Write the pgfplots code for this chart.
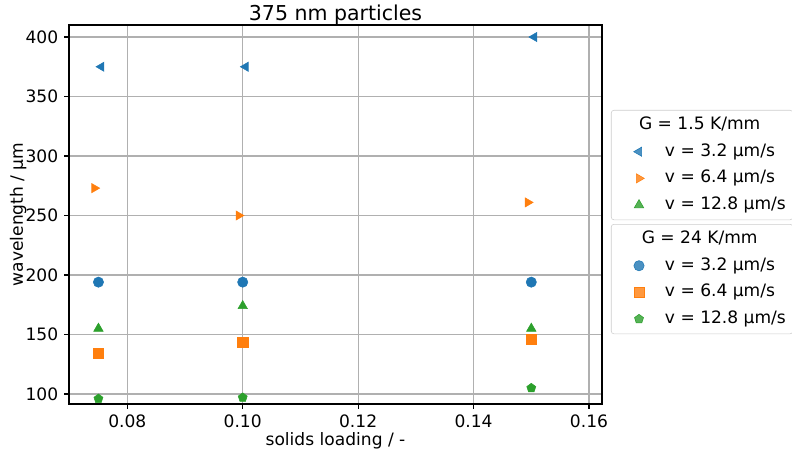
\documentclass[border=0pt]{standalone}
\usepackage{fontspec}
\setmainfont{DejaVu Sans}
\usepackage{pgfplots}
\pgfplotsset{compat=1.18}

\definecolor{tabblue}{HTML}{1F77B4}
\definecolor{taborange}{HTML}{FF7F0E}
\definecolor{tabgreen}{HTML}{2CA02C}

\newcommand{\basefont}{\fontsize{12.3}{14.8}\selectfont}

\pgfplotsset{
  common/.style={
    scale only axis, width=383.76pt, height=272.88pt,
    at={(0,0)}, anchor=south west,
    xmin=0.0699, xmax=0.16225, ymin=91.6, ymax=410.1,
    legend cell align=left,
    legend style={draw=black!20, rounded corners=2pt, fill=white, fill opacity=0.8, text opacity=1,
      font=\basefont,
      row sep=2.9pt, column sep=2.5pt, inner xsep=3pt, inner ysep=2.5pt,
      nodes={text height=9.3pt, text depth=3pt, inner sep=2pt}},
    % marker in a fixed-width cell (move-to only, so nothing is stroked)
    legend image code/.code={\path (0pt,0pt) (30.8pt,0pt);
      \draw[mark repeat=3,mark phase=2,##1] plot coordinates {(0pt,0pt)(16.8pt,0pt)(30.8pt,0pt)};},
  },
}
\newcommand{\legtitle}[1]{\hspace*{-36.9pt}\makebox[123.8pt][c]{#1}}

\begin{document}
\basefont
\begin{tikzpicture}
\begin{axis}[
  common,
  title={375 nm particles},
  every axis title/.style={at={(axis description cs:0.5,1)}, anchor=base, yshift=2.9pt,
    inner sep=0pt, font=\fontsize{14.76}{17.7}\selectfont},
  xlabel={solids loading / -}, ylabel={wavelength / µm},
  every axis x label/.style={at={(axis description cs:0.5,-0.0975)}, anchor=center, font=\basefont},
  every axis y label/.style={at={(axis description cs:-0.0956,0.5)}, rotate=90, anchor=center, font=\basefont},
  xtick={0.08,0.10,0.12,0.14,0.16},
  ytick={100,150,200,250,300,350,400},
  tick label style={font=\basefont},
  xticklabel style={/pgf/number format/.cd, fixed, fixed zerofill, precision=2},
  /pgf/number format/assume math mode=true,
  grid=major, grid style={color=black!31, line width=0.8pt},
  axis line style={line width=0.8pt},
  tick style={line width=0.8pt, black},
  tick align=outside, tick pos=left, major tick length=3.5pt,
  legend style={at={(1.0168,0.7758)}, anchor=north west},
]
\addlegendimage{empty legend}
\addlegendentry{\legtitle{G = 1.5 K/mm}}
% G = 1.5 K/mm
\addplot[only marks, mark=triangle*, mark size=3.8pt, color=tabblue, mark options={rotate=90}]
  coordinates {(0.0755,375) (0.1005,375) (0.1505,400)};
\addlegendentry{v = 3.2 µm/s}
\addplot[only marks, mark=triangle*, mark size=3.8pt, color=taborange, mark options={rotate=-90}]
  coordinates {(0.0743,273) (0.0993,250) (0.1494,261)};
\addlegendentry{v = 6.4 µm/s}
\addplot[only marks, mark=triangle*, mark size=3.9pt, color=tabgreen]
  coordinates {(0.075,155) (0.100,174) (0.150,155)};
\addlegendentry{v = 12.8 µm/s}
% G = 24 K/mm
\addplot[forget plot, only marks, mark=*, mark size=3.7pt, color=tabblue]
  coordinates {(0.075,194) (0.100,194) (0.150,194)};
\addplot[forget plot, only marks, mark=square*, mark size=3.7pt, color=taborange]
  coordinates {(0.075,134) (0.100,143.5) (0.150,146)};
\addplot[forget plot, only marks, mark=pentagon*, mark size=3.4pt, color=tabgreen]
  coordinates {(0.075,96) (0.100,97) (0.150,105)};
\end{axis}
\begin{axis}[
  common, hide axis,
  legend style={at={(1.0168,0.4749)}, anchor=north west},
]
\addlegendimage{empty legend}
\addlegendentry{\legtitle{G = 24 K/mm}}
\addlegendimage{only marks, mark=*, mark size=3.7pt, color=tabblue}
\addlegendentry{v = 3.2 µm/s}
\addlegendimage{only marks, mark=square*, mark size=3.7pt, color=taborange}
\addlegendentry{v = 6.4 µm/s}
\addlegendimage{only marks, mark=pentagon*, mark size=3.4pt, color=tabgreen}
\addlegendentry{v = 12.8 µm/s}
\end{axis}
\pgfresetboundingbox
\path (-49.68pt,-37.44pt) rectangle (520.56pt,290.88pt);
\end{tikzpicture}
\end{document}
